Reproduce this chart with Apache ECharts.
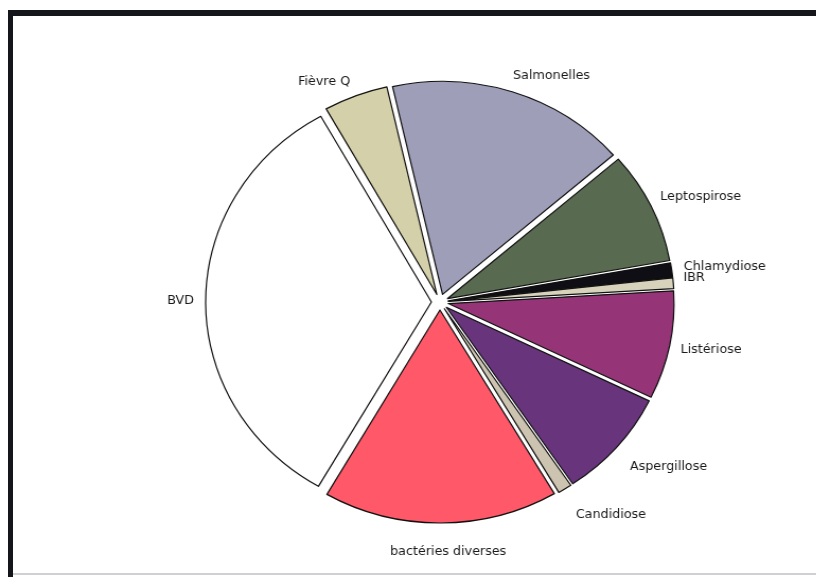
<!DOCTYPE html>
<html>
<head>
<meta charset="utf-8">
<script src="https://cdn.jsdelivr.net/npm/echarts@6/dist/echarts.min.js"></script>
<style>
  html, body { margin: 0; padding: 0; background: #ffffff; }
  body { width: 816px; height: 577px; position: relative; overflow: hidden; }
  #chart {
    position: absolute; left: 0; top: 0;
    width: 770px; height: 577px;
    transform: scaleX(1.06); transform-origin: 0 0;
  }
  .frame-top { position: absolute; left: 8px; top: 10px; width: 808px; height: 6px; background: #15151c; }
  .frame-left { position: absolute; left: 8px; top: 10px; width: 5px; height: 567px; background: #15151c; }
  .frame-bottom { position: absolute; left: 13px; top: 573px; width: 803px; height: 2px; background: #d0d0d4; }
</style>
</head>
<body>
<div id="chart"></div>
<div class="frame-top"></div>
<div class="frame-left"></div>
<div class="frame-bottom"></div>
<script>
// Share of each diagnosis (%), clockwise from the top
const categories = ['Salmonelles', 'Leptospirose', 'Chlamydiose', 'IBR', 'Listériose',
                    'Aspergillose', 'Candidiose', 'bactéries diverses', 'BVD', 'Fièvre Q'];
const shares = [17.2, 8.5, 1.1, 0.8, 8.2, 8.3, 1.0, 16.8, 33.5, 4.6];
const sliceColors = ['#9e9eb8', '#586a50', '#0e0e14', '#d6d2bc', '#963478',
                     '#68347c', '#ccc4b0', '#ff5868', '#ffffff', '#d4d0aa'];

// Label placement tweaks per category: [dx, dy, align]
const labelNudge = {
  'Salmonelles': [-12, -7],
  'Fièvre Q': [7.5, -5],
  'Leptospirose': [-9.5, -5],
  'Chlamydiose': [-7.5, -2],
  'IBR': [-9.5, -4],
  'Listériose': [-8.5, 3],
  'Aspergillose': [-4, 13],
  'Candidiose': [-4, 17],
  'bactéries diverses': [-2, 19, 'center'],
  'BVD': [8, 0]
};

const chart = echarts.init(document.getElementById('chart'), null, { renderer: 'canvas' });

const data = categories.map((name, i) => ({
  name: name,
  value: shares[i],
  selected: true,
  itemStyle: { color: sliceColors[i] }
}));

chart.setOption({
  animation: false,
  backgroundColor: '#ffffff',
  series: [{
    type: 'pie',
    center: [415, 302],
    radius: [0, 213],
    startAngle: 102.8,
    clockwise: true,
    selectedMode: 'multiple',
    selectedOffset: 8,
    avoidLabelOverlap: false,
    itemStyle: { borderColor: '#111111', borderWidth: 1.2 },
    select: { itemStyle: { borderColor: '#111111', borderWidth: 1.2 } },
    emphasis: { disabled: true },
    label: {
      show: true,
      position: 'outside',
      color: '#1a1a1a',
      fontFamily: 'DejaVu Sans, Verdana, sans-serif',
      fontSize: 12,
      formatter: '{b}'
    },
    labelLine: { show: false, length: 10, length2: 4 },
    labelLayout: function (params) {
      const n = labelNudge[categories[params.dataIndex]];
      if (!n) return {};
      const out = { dx: n[0], dy: n[1] };
      if (n[2]) out.align = n[2];
      return out;
    },
    data: data
  }]
});
</script>
</body>
</html>
